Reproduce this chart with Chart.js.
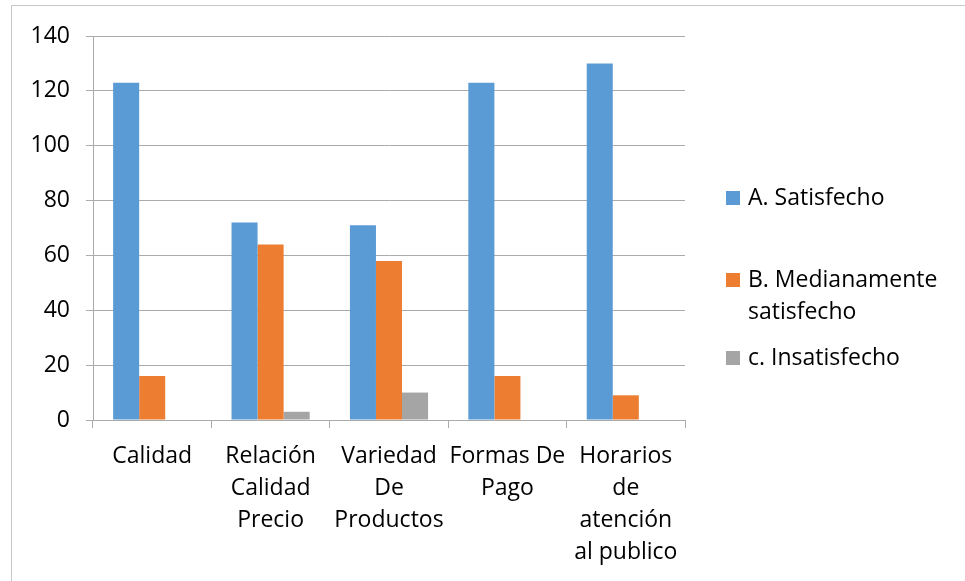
<!DOCTYPE html>
<html>
<head>
<meta charset="utf-8">
<script src="https://cdn.jsdelivr.net/npm/chart.js@4"></script>
<style>
html,body{margin:0;padding:0;background:#fff;}
#wrap{position:relative;width:965px;height:581px;}
</style>
</head>
<body>
<div id="wrap"><canvas id="c" width="965" height="581"></canvas></div>
<script>
const categories = ["Calidad", ["Relación","Calidad","Precio"], ["Variedad","De","Productos"], ["Formas De","Pago"], ["Horarios","de","atención","al publico"]];
const seriesLegendLines = [["A. Satisfecho"], ["B. Medianamente","satisfecho"], ["c. Insatisfecho"]];
const satisfecho = [123, 72, 71, 123, 130];
const medianamente = [16, 64, 58, 16, 9];
const insatisfecho = [0, 3, 10, 0, 0];
const seriesColors = ["#5B9BD5", "#ED7D31", "#A5A5A5"];
const yMin = 0, yMax = 140, yStep = 20;

const FONT = "'Open Sans', 'Liberation Sans', sans-serif";
const FSIZE = 23;
const GRID = "#ababab";

const legendPlugin = {
  id: 'customLegend',
  afterDraw(chart) {
    const ctx = chart.ctx;
    const ys = [198, 280, 358];
    ctx.save();
    ctx.font = FSIZE + "px " + FONT;
    ctx.textBaseline = "middle";
    chart.data.datasets.forEach((ds, i) => {
      ctx.fillStyle = ds.backgroundColor;
      ctx.fillRect(726, ys[i] - 7, 14, 14);
      ctx.fillStyle = "#000";
      seriesLegendLines[i].forEach((line, j) => {
        ctx.fillText(line, 748, ys[i] + j * 32);
      });
    });
    ctx.restore();
  }
};

const borderPlugin = {
  id: 'outerBorder',
  beforeDraw(chart) {
    const ctx = chart.ctx;
    ctx.save();
    ctx.fillStyle = "#fff";
    ctx.fillRect(0, 0, chart.width, chart.height);
    ctx.strokeStyle = "#c8c8c8";
    ctx.lineWidth = 1;
    ctx.strokeRect(11.5, 5.5, 2000, 2000);
    ctx.restore();
  }
};

new Chart(document.getElementById('c'), {
  type: 'bar',
  data: {
    labels: categories,
    datasets: [
      { label: seriesLegendLines[0].join(' '), data: satisfecho, backgroundColor: seriesColors[0] },
      { label: seriesLegendLines[1].join(' '), data: medianamente, backgroundColor: seriesColors[1] },
      { label: seriesLegendLines[2].join(' '), data: insatisfecho, backgroundColor: seriesColors[2] }
    ]
  },
  options: {
    responsive: false,
    animation: false,
    devicePixelRatio: 1,
    layout: { padding: { left: 0, right: 280, top: 36, bottom: 0 } },
    datasets: { bar: { barPercentage: 1.0, categoryPercentage: 0.66 } },
    plugins: { legend: { display: false }, tooltip: { enabled: false } },
    scales: {
      x: {
        afterFit(scale) { scale.height = 161; },
        grid: { display: true, drawOnChartArea: false, drawTicks: true, tickLength: 8, color: GRID, offset: true },
        border: { display: true, color: GRID },
        ticks: {
          color: "#000", padding: 12, maxRotation: 0, minRotation: 0, autoSkip: false,
          font: { family: FONT, size: FSIZE, lineHeight: 32/FSIZE }
        }
      },
      y: {
        min: yMin, max: yMax,
        afterFit(scale) { scale.width = 93; },
        grid: { color: GRID, drawTicks: true, tickLength: 7 },
        border: { display: true, color: GRID },
        ticks: {
          stepSize: yStep, color: "#000", padding: 16,
          font: { family: FONT, size: FSIZE }
        }
      }
    }
  },
  plugins: [borderPlugin, legendPlugin]
});
</script>
</body>
</html>
